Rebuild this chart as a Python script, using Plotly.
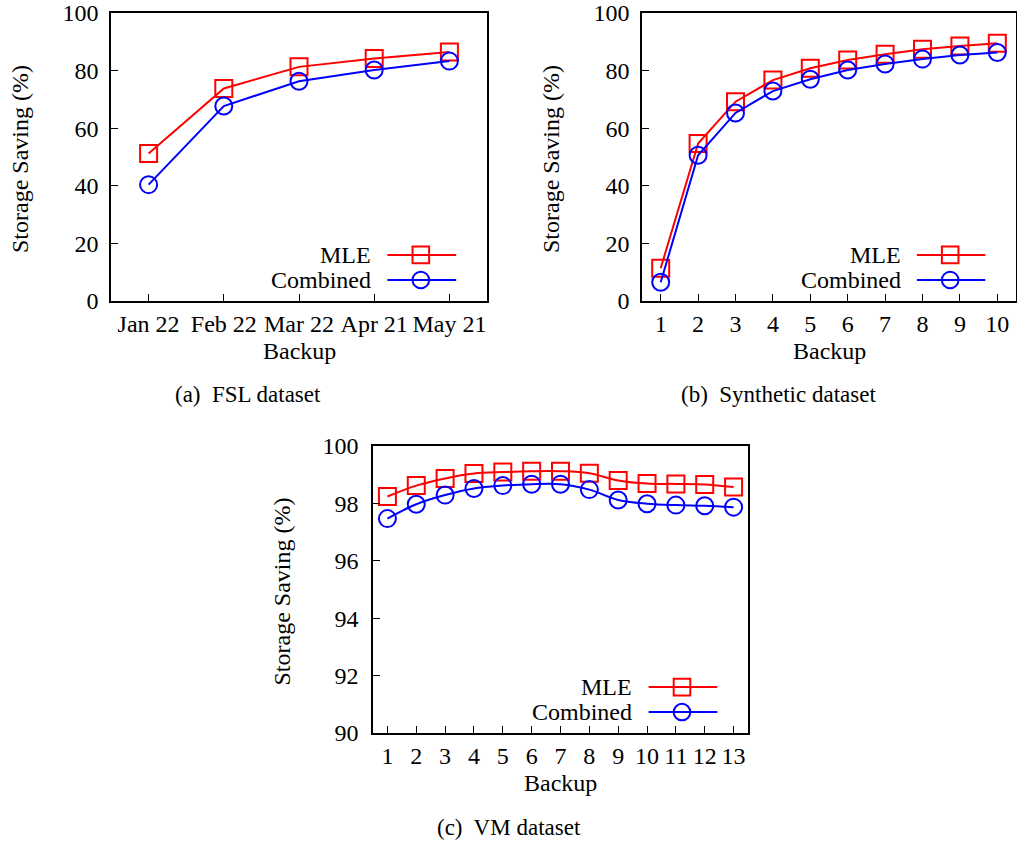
import plotly.graph_objects as go

# ---- data ----
fsl_months = ["Jan 22", "Feb 22", "Mar 22", "Apr 21", "May 21"]
fsl_mle = [51.2, 73.8, 81.3, 84.2, 86.5]
fsl_combined = [40.4, 67.7, 76.3, 80.2, 83.3]

syn_backups = [1, 2, 3, 4, 5, 6, 7, 8, 9, 10]
syn_mle = [11.4, 54.7, 69.2, 76.7, 80.8, 83.7, 85.7, 87.4, 88.5, 89.5]
syn_combined = [6.5, 50.6, 65.3, 72.9, 77.0, 80.2, 82.3, 84.0, 85.4, 86.3]

vm_backups = [1, 2, 3, 4, 5, 6, 7, 8, 9, 10, 11, 12, 13]
vm_mle = [98.24, 98.62, 98.87, 99.04, 99.09, 99.12, 99.12, 99.05, 98.80,
          98.69, 98.68, 98.66, 98.57]
vm_combined = [97.47, 97.97, 98.29, 98.52, 98.62, 98.67, 98.67, 98.48, 98.12,
               97.99, 97.94, 97.92, 97.87]

fsl_yticks = [0, 20, 40, 60, 80, 100]
syn_yticks = [0, 20, 40, 60, 80, 100]
vm_yticks = [90, 92, 94, 96, 98, 100]

RED = "#ff0000"
BLUE = "#0000ff"
FONT = "Liberation Serif"
FS = 24
W, H = 1017, 841

fig = go.Figure()


def add_pair(x, y1, y2, ax, shape="linear"):
    xa = "x" if ax == 1 else f"x{ax}"
    ya = "y" if ax == 1 else f"y{ax}"
    fig.add_trace(go.Scatter(
        x=x, y=y1, xaxis=xa, yaxis=ya, mode="lines+markers", name="MLE",
        line=dict(color=RED, width=2, shape=shape),
        marker=dict(symbol="square-open", size=17, color=RED,
                    line=dict(width=2, color=RED)),
        showlegend=False, cliponaxis=False))
    fig.add_trace(go.Scatter(
        x=x, y=y2, xaxis=xa, yaxis=ya, mode="lines+markers", name="Combined",
        line=dict(color=BLUE, width=2, shape=shape),
        marker=dict(symbol="circle-open", size=17, color=BLUE,
                    line=dict(width=2, color=BLUE)),
        showlegend=False, cliponaxis=False))


add_pair(list(range(len(fsl_months))), fsl_mle, fsl_combined, 1)
add_pair(syn_backups, syn_mle, syn_combined, 2)
add_pair(vm_backups, vm_mle, vm_combined, 3, shape="spline")

# panel boxes in pixels: (left, right, top, bottom)
boxes = {
    1: (111, 487, 13, 301),
    2: (642, 1016, 13, 301),
    3: (373, 748, 446, 733),
}


def px_dom(b):
    l, r, t, bt = b
    return [l / W, r / W], [1 - bt / H, 1 - t / H]


axis_common = dict(
    showline=True, linecolor="black", linewidth=1.5, mirror=True,
    ticks="inside", ticklen=7, tickwidth=1, tickcolor="black",
    showgrid=False, zeroline=False, automargin=False,
    tickfont=dict(family=FONT, size=FS, color="black"),
)

layout_axes = {}
xdefs = {
    1: dict(range=[-0.5, 4.5], tickvals=list(range(len(fsl_months))),
            ticktext=fsl_months),
    2: dict(range=[0.5, 10.5], tickvals=syn_backups),
    3: dict(range=[0.5, 13.5], tickvals=vm_backups),
}
ydefs = {
    1: dict(range=[0, 100], tickvals=fsl_yticks, ticklabelstandoff=6),
    2: dict(range=[0, 100], tickvals=syn_yticks, ticklabelstandoff=6),
    3: dict(range=[90, 100], tickvals=vm_yticks, ticklabelstandoff=8),
}
for k, b in boxes.items():
    xd, yd = px_dom(b)
    sfx = "" if k == 1 else str(k)
    layout_axes[f"xaxis{sfx}"] = dict(axis_common, domain=xd,
                                      anchor=f"y{sfx}", **xdefs[k])
    layout_axes[f"yaxis{sfx}"] = dict(axis_common, domain=yd,
                                      anchor=f"x{sfx}", **ydefs[k])

annotations = []
shapes = []
captions = {1: "(a)  FSL dataset", 2: "(b)  Synthetic dataset",
            3: "(c)  VM dataset"}
caption_pos = {1: (248, 394), 2: (778, 394), 3: (509, 827)}
ytitle_x = {1: 20, 2: 551, 3: 281}

for k, b in boxes.items():
    l, r, t, bt = b
    sfx = "" if k == 1 else str(k)
    # y axis title
    annotations.append(dict(
        x=ytitle_x[k] / W, y=1 - ((t + bt) / 2 + 2) / H, xref="paper",
        yref="paper", text="Storage Saving (%)", textangle=-90,
        showarrow=False, font=dict(family=FONT, size=FS, color="black"),
        xanchor="center", yanchor="middle"))
    # x axis title
    annotations.append(dict(
        x=(l + r) / 2 / W, y=1 - (bt + 50) / H, xref="paper", yref="paper",
        text="Backup", showarrow=False,
        font=dict(family=FONT, size=FS, color="black"),
        xanchor="center", yanchor="middle"))
    # caption
    cx, cy = caption_pos[k]
    annotations.append(dict(
        x=cx / W, y=1 - cy / H, xref="paper", yref="paper",
        text=captions[k], showarrow=False,
        font=dict(family=FONT, size=23, color="black"),
        xanchor="center", yanchor="middle"))

    # key: text on the left, sample line with marker on the right
    bw, bh = r - l, bt - t
    xd = f"x{sfx} domain"
    yd = f"y{sfx} domain"
    for label, color, sym, yy in [("MLE", RED, "rect", 0.16),
                                  ("Combined", BLUE, "circle", 0.073)]:
        annotations.append(dict(
            x=0.697, y=yy, xref=xd, yref=yd, text=label, showarrow=False,
            font=dict(family=FONT, size=FS, color="black"),
            xanchor="right", yanchor="middle"))
        shapes.append(dict(type="line", xref=xd, yref=yd, x0=0.735,
                           x1=0.918, y0=yy, y1=yy,
                           line=dict(color=color, width=2)))
        hx, hy = 8.3 / bw, 8.3 / bh
        shapes.append(dict(type=sym, xref=xd, yref=yd,
                           x0=0.824 - hx, x1=0.824 + hx,
                           y0=yy - hy, y1=yy + hy,
                           line=dict(color=color, width=2),
                           fillcolor="rgba(0,0,0,0)"))

fig.update_layout(
    template="none",
    width=W, height=H, margin=dict(l=0, r=0, t=0, b=0, autoexpand=False),
    paper_bgcolor="white", plot_bgcolor="white",
    font=dict(family=FONT, size=FS, color="black"),
    annotations=annotations, shapes=shapes, showlegend=False,
    **layout_axes)

fig.write_html("out.html")
